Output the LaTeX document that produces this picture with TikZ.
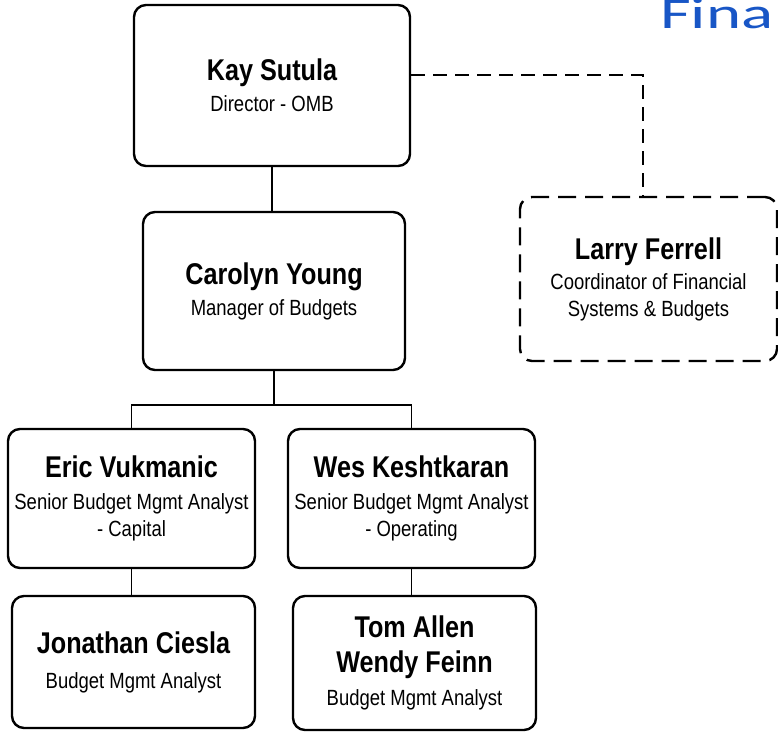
\documentclass[tikz,border=0pt]{standalone}
\usepackage{fontspec}
\setmainfont{Liberation Sans}[FakeStretch=0.84]
\newfontfamily\titlefont{Carlito}[FakeStretch=1.52]
\definecolor{slideblue}{RGB}{24,86,198}
\newcommand{\nm}[1]{{\fontsize{30}{34}\selectfont\bfseries #1}}

\begin{document}
\begin{tikzpicture}[x=1pt,y=-1pt,
  box/.style={draw,line width=2.4pt,rounded corners=12pt,align=center,inner sep=0pt,
    font=\fontsize{22}{27}\selectfont},
  dashbox/.style={box,dash pattern=on 18pt off 9pt},
  link/.style={line width=1.6pt},
  dashlink/.style={link,dash pattern=on 14pt off 8pt}]
 \clip (0,0) rectangle (778,732);
 \node[anchor=base west,font=\titlefont\fontsize{44}{48}\selectfont,text=slideblue,inner sep=0pt]
   (title) at (660,28) {Fina};
 \node[box,minimum width=276pt,minimum height=161pt] (kay) at (272,85.5)
   {\nm{Kay Sutula}\\[4pt]Director - OMB};
 \node[box,minimum width=262pt,minimum height=158pt] (carolyn) at (274,291)
   {\nm{Carolyn Young}\\[4pt]Manager of Budgets};
 \node[dashbox,minimum width=257pt,minimum height=164pt] (larry) at (648.5,279)
   {\nm{Larry Ferrell}\\[3pt]Coordinator of Financial\\Systems \& Budgets};
 \node[box,minimum width=247pt,minimum height=139pt] (eric) at (131.5,498.5)
   {\nm{Eric Vukmanic}\\[5pt]Senior Budget Mgmt Analyst\\- Capital};
 \node[box,minimum width=247pt,minimum height=139pt] (wes) at (411.5,498.5)
   {\nm{Wes Keshtkaran}\\[5pt]Senior Budget Mgmt Analyst\\- Operating};
 \node[box,minimum width=243pt,minimum height=132pt] (jonathan) at (133.5,662)
   {\nm{Jonathan Ciesla}\\[8pt]Budget Mgmt Analyst};
 \node[box,minimum width=243pt,minimum height=134pt] (tom) at (414.5,663)
   {\nm{Tom Allen}\\[8pt]\nm{Wendy Feinn}\\[6pt]Budget Mgmt Analyst};
 \coordinate (bus) at (273,405);
 \coordinate (tap) at (643,75);
 \draw[link] (kay.south) -- (kay.south |- carolyn.north);
 \draw[link] (carolyn.south) -- (carolyn.south |- bus);
 \draw[link] (eric.north) -- (eric.north |- bus) -- (wes.north |- bus) -- (wes.north);
 \draw[link] (eric.south) -- (eric.south |- jonathan.north);
 \draw[link] (wes.south) -- (wes.south |- tom.north);
 \draw[dashlink] (kay.east |- tap) -- (tap) -- (tap |- larry.north);
\end{tikzpicture}
\end{document}
